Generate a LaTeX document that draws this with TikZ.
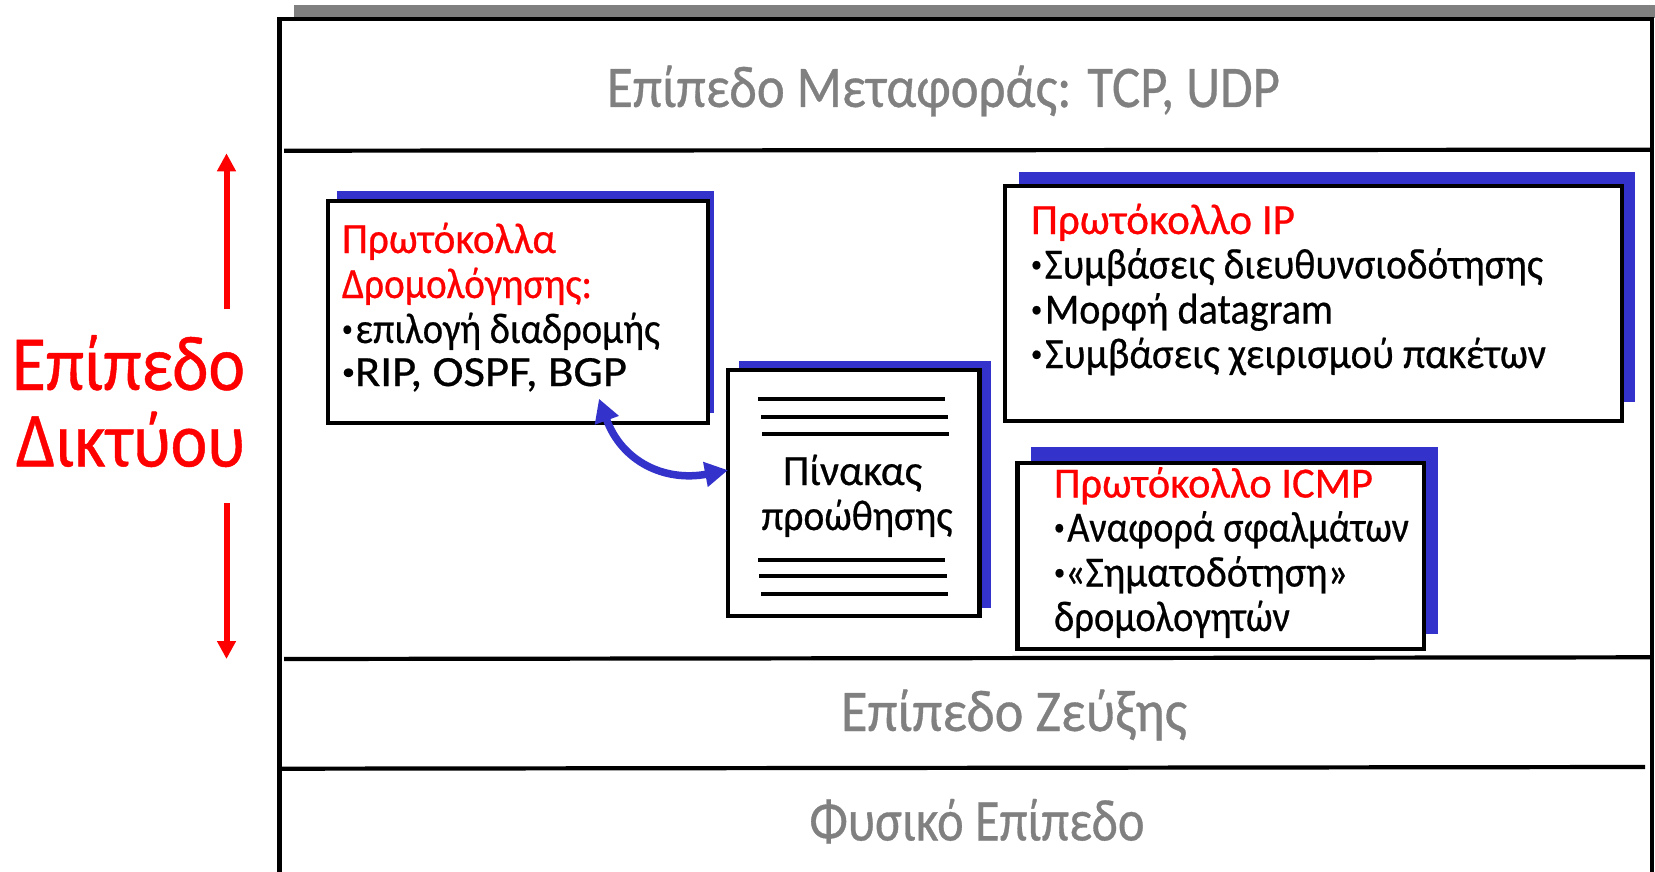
\documentclass[tikz,border=0pt]{standalone}
\usepackage{fontspec}
\usepackage{graphicx}
\usetikzlibrary{arrows.meta}
\setmainfont{Carlito}
\newfontfamily\labelfont{Carlito}[RawFeature={embolden=0.6}]
\definecolor{layergray}{HTML}{808080}
\definecolor{shadowblue}{HTML}{3333CC}
\definecolor{netred}{HTML}{FF0000}
\newsavebox\fitsave
% width in px, text: stretch horizontally to the wanted width
\newcommand\fitw[2]{\sbox\fitsave{#2}\pgfmathsetmacro\fitr{#1/\wd\fitsave}\scalebox{\fitr}[1]{\usebox\fitsave}}
\newcommand\bul{{\fontsize{24}{24}\selectfont\raisebox{6.5pt}{•}}\kern3pt}
\newcommand\bulr{{\fontsize{24}{24}\selectfont\raisebox{6.5pt}{•}}\kern0pt}
\tikzset{
  txt/.style={anchor=base west,inner sep=0pt,outer sep=0pt},
  graytxt/.style={txt,text=layergray,font=\labelfont\fontsize{59}{59}\selectfont},
  redtxt/.style={txt,text=netred,font=\labelfont\fontsize{43}{43}\selectfont},
  blacktxt/.style={txt,text=black,font=\labelfont\fontsize{43}{43}\selectfont},
  biglabel/.style={txt,text=netred,font=\labelfont\fontsize{78}{78}\selectfont},
  framel/.style={draw=black,line width=4.2pt},
  whitebox/.style={draw=black,fill=white,line width=4.2pt,inner sep=0pt,outer sep=0pt},
  rule/.style={draw=black,line width=4pt},
  redarrow/.style={draw=netred,line width=6pt,-{Triangle[length=18pt,width=18pt]}},
  bluearrow/.style={draw=shadowblue,line width=7.5pt,{Triangle[length=23pt,width=24pt]}-{Triangle[length=23pt,width=24pt]}},
}
\begin{document}
\begin{tikzpicture}[x=1pt,y=-1pt]
\useasboundingbox (0,0) rectangle (1655,872);
% gray bar and outer frame
\fill[layergray] (294,5) rectangle (1655,18);
\draw[framel] (279.5,872) -- (279.5,19.3) -- (1652,19.3) -- (1652,872);
\coordinate (l1a) at (284,150.7); \coordinate (l1b) at (1652,149.7);
\coordinate (l2a) at (284,659);   \coordinate (l2b) at (1652,657.3);
\coordinate (l3a) at (279.5,768.7); \coordinate (l3b) at (1645,767);
\draw[framel] (l1a) -- (l1b);
\draw[framel] (l2a) -- (l2b);
\draw[framel] (l3a) -- (l3b);
% layer labels
\node[graytxt] (transport) at (607,107) {\fitw{673}{Επίπεδο Μεταφοράς: TCP, UDP}};
\node[graytxt] (link) at (841,731) {\fitw{346}{Επίπεδο Ζεύξης}};
\node[graytxt] (phys) at (809.5,840.5) {\fitw{335}{Φυσικό Επίπεδο}};
% left label and arrows
\node[biglabel] (net1) at (12,390) {\fitw{233}{Επίπεδο}};
\node[biglabel] (net2) at (16,466.5) {\fitw{229}{Δικτύου}};
\coordinate (upa) at (226.5,309.3); \coordinate (upb) at (226.5,153.3);
\coordinate (dna) at (226.5,503);   \coordinate (dnb) at (226.5,659);
\draw[redarrow] (upa) -- (upb);
\draw[redarrow] (dna) -- (dnb);
% routing box
\fill[shadowblue] (337,191) rectangle (714,412.7);
\node[whitebox,minimum width=380pt,minimum height=221.7pt] (rout) at (518,311.85) {};
\node[redtxt] (r1) at (342,253) {\fitw{214}{Πρωτόκολλα}};
\node[redtxt] (r2) at (342,298) {\fitw{250}{Δρομολόγησης:}};
\node[blacktxt] (r3) at (342,343) {\fitw{318}{\bul επιλογή διαδρομής}};
\node[blacktxt] (r4) at (342,386) {\fitw{285}{\bulr RIP, OSPF, BGP}};
% forwarding table
\fill[shadowblue] (739,361) rectangle (990.5,607.7);
\node[whitebox,minimum width=251.5pt,minimum height=246.3pt] (tabl) at (853.75,493.15) {};
\node[blacktxt] (t1) at (783,485) {\fitw{139}{Πίνακας}};
\node[blacktxt] (t2) at (761.5,530) {\fitw{191}{προώθησης}};
\foreach \n/\xa/\xb/\yy in {a/758/945/398.7,b/761/948/416.7,c/762/949/434.3,d/758/945/559.7,e/759/947/576.3,f/761/948/593.7}{
  \coordinate (rule\n a) at (\xa,\yy); \coordinate (rule\n b) at (\xb,\yy);
  \draw[rule] (rule\n a) -- (rule\n b);
}
% IP box
\fill[shadowblue] (1019,172) rectangle (1635,401.7);
\node[whitebox,minimum width=617pt,minimum height=234.7pt] (ipbox) at (1313.5,303.35) {};
\node[redtxt] (i1) at (1031,234) {\fitw{264}{Πρωτόκολλο IP}};
\node[blacktxt] (i2) at (1031,278.5) {\fitw{512}{\bul Συμβάσεις διευθυνσιοδότησης}};
\node[blacktxt] (i3) at (1031,323.5) {\fitw{302}{\bul Μορφή datagram}};
\node[blacktxt] (i4) at (1031,368) {\fitw{515}{\bul Συμβάσεις χειρισμού πακέτων}};
% ICMP box
\fill[shadowblue] (1031,447) rectangle (1438,633.7);
\node[whitebox,minimum width=406.3pt,minimum height=186.6pt] (icmp) at (1220.55,556) {};
\node[redtxt] (c1) at (1054,497.5) {\fitw{319}{Πρωτόκολλο ICMP}};
\node[blacktxt] (c2) at (1054,541.5) {\fitw{355}{\bul Αναφορά σφαλμάτων}};
\node[blacktxt] (c3) at (1054,586.5) {\fitw{294}{\bulr«Σηματοδότηση»}};
\node[blacktxt] (c4) at (1054,631) {\fitw{236}{δρομολογητών}};
% blue double arrow
\draw[bluearrow] ([xshift=81pt,yshift=24pt]rout.south) .. controls (622,462) and (665,482) .. ([yshift=23pt]tabl.west);
\end{tikzpicture}
\end{document}
